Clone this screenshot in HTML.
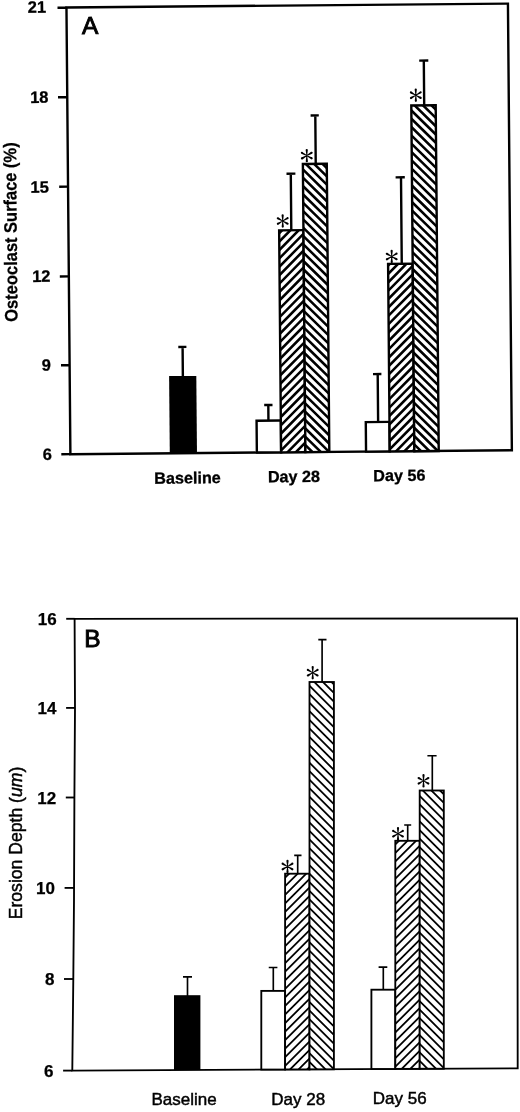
<!DOCTYPE html><html><head><meta charset="utf-8"><style>html,body{margin:0;padding:0;background:#fff;}text{font-family:"Liberation Sans",sans-serif}svg{display:block;filter:grayscale(1) blur(0.35px)}</style></head><body>
<svg width="520" height="1112" viewBox="0 0 520 1112">
<rect width="520" height="1112" fill="#fff"/>
<g transform="translate(70.4,454.2) rotate(-0.505)">
<rect x="0" y="-446.72" width="441.49" height="446.72" fill="none" stroke="#000" stroke-width="2.4"/>
<path d="M-8.97,-446.5 L0,-446.5" stroke="#000" stroke-width="2.4"/>
<text x="-20.37" y="-441.8" text-anchor="end" font-weight="bold" font-size="16.5" stroke="#000" stroke-width="0.3">21</text>
<path d="M-9.25,-357 L0,-357" stroke="#000" stroke-width="2.4"/>
<text x="-18.75" y="-351.6" text-anchor="end" font-weight="bold" font-size="16.5" stroke="#000" stroke-width="0.3">18</text>
<path d="M-8.84,-267.59 L0,-267.59" stroke="#000" stroke-width="2.4"/>
<text x="-19.14" y="-261.69" text-anchor="end" font-weight="bold" font-size="16.5" stroke="#000" stroke-width="0.3">15</text>
<path d="M-9.03,-177.79 L0,-177.79" stroke="#000" stroke-width="2.4"/>
<text x="-18.33" y="-172.59" text-anchor="end" font-weight="bold" font-size="16.5" stroke="#000" stroke-width="0.3">12</text>
<path d="M-8.62,-88.98 L0,-88.98" stroke="#000" stroke-width="2.4"/>
<text x="-18.82" y="-83.58" text-anchor="end" font-weight="bold" font-size="16.5" stroke="#000" stroke-width="0.3">9</text>
<path d="M-9.1,-0.08 L0,-0.08" stroke="#000" stroke-width="2.4"/>
<text x="-18.6" y="5.62" text-anchor="end" font-weight="bold" font-size="16.5" stroke="#000" stroke-width="0.3">6</text>
<path d="M113.14,-76.21 L113.14,-106.31 M108.84,-106.31 L116.94,-106.31" stroke="#000" stroke-width="2.4" fill="none"/>
<rect x="99.39" y="-77.21" width="27.2" height="77.21" fill="#000"/>
<path d="M198.33,-31.85 L198.33,-47.45 M194.23,-47.45 L202.53,-47.45" stroke="#000" stroke-width="2.4" fill="none"/>
<rect x="186.46" y="-31.85" width="24.3" height="31.85" fill="#fff"/>
<rect x="186.46" y="-31.85" width="24.3" height="31.85" fill="none" stroke="#000" stroke-width="2.4"/>
<path d="M222.86,-222.03 L222.86,-278.55 M218.56,-278.55 L227.46,-278.55" stroke="#000" stroke-width="2.4" fill="none"/>
<rect x="210.72" y="-222.03" width="24.3" height="222.03" fill="#fff"/>
<clipPath id="c1"><rect x="210.72" y="-222.03" width="24.3" height="222.03"/></clipPath>
<path clip-path="url(#c1)" d="M215.33,-232.03 L-26.7,10 M223.68,-232.03 L-18.35,10 M232.03,-232.03 L-10,10 M240.38,-232.03 L-1.65,10 M248.73,-232.03 L6.7,10 M257.08,-232.03 L15.05,10 M265.43,-232.03 L23.4,10 M273.78,-232.03 L31.75,10 M282.13,-232.03 L40.1,10 M290.48,-232.03 L48.45,10 M298.83,-232.03 L56.8,10 M307.18,-232.03 L65.15,10 M315.53,-232.03 L73.5,10 M323.88,-232.03 L81.85,10 M332.23,-232.03 L90.2,10 M340.58,-232.03 L98.55,10 M348.93,-232.03 L106.9,10 M357.28,-232.03 L115.25,10 M365.63,-232.03 L123.6,10 M373.98,-232.03 L131.95,10 M382.33,-232.03 L140.3,10 M390.68,-232.03 L148.65,10 M399.03,-232.03 L157,10 M407.38,-232.03 L165.35,10 M415.73,-232.03 L173.7,10 M424.08,-232.03 L182.05,10 M432.43,-232.03 L190.4,10 M440.78,-232.03 L198.75,10 M449.13,-232.03 L207.1,10 M457.48,-232.03 L215.45,10 M465.83,-232.03 L223.8,10 M474.18,-232.03 L232.15,10" stroke="#000" stroke-width="2.55" fill="none"/>
<rect x="210.72" y="-222.03" width="24.3" height="222.03" fill="none" stroke="#000" stroke-width="2.4"/>
<path d="M247.88,-288.11 L247.88,-336.63 M243.18,-336.63 L251.38,-336.63" stroke="#000" stroke-width="2.4" fill="none"/>
<rect x="235.02" y="-288.11" width="23.9" height="288.11" fill="#fff"/>
<clipPath id="c2"><rect x="235.02" y="-288.11" width="23.9" height="288.11"/></clipPath>
<path clip-path="url(#c2)" d="M-64.31,-298.11 L243.8,10 M-55.96,-298.11 L252.15,10 M-47.61,-298.11 L260.5,10 M-39.26,-298.11 L268.85,10 M-30.91,-298.11 L277.2,10 M-22.56,-298.11 L285.55,10 M-14.21,-298.11 L293.9,10 M-5.86,-298.11 L302.25,10 M2.49,-298.11 L310.6,10 M10.84,-298.11 L318.95,10 M19.19,-298.11 L327.3,10 M27.54,-298.11 L335.65,10 M35.89,-298.11 L344,10 M44.24,-298.11 L352.35,10 M52.59,-298.11 L360.7,10 M60.94,-298.11 L369.05,10 M69.29,-298.11 L377.4,10 M77.64,-298.11 L385.75,10 M85.99,-298.11 L394.1,10 M94.34,-298.11 L402.45,10 M102.69,-298.11 L410.8,10 M111.04,-298.11 L419.15,10 M119.39,-298.11 L427.5,10 M127.74,-298.11 L435.85,10 M136.09,-298.11 L444.2,10 M144.44,-298.11 L452.55,10 M152.79,-298.11 L460.9,10 M161.14,-298.11 L469.25,10 M169.49,-298.11 L477.6,10 M177.84,-298.11 L485.95,10 M186.19,-298.11 L494.3,10 M194.54,-298.11 L502.65,10 M202.89,-298.11 L511,10 M211.24,-298.11 L519.35,10 M219.59,-298.11 L527.7,10 M227.94,-298.11 L536.05,10 M236.29,-298.11 L544.4,10 M244.64,-298.11 L552.75,10 M252.99,-298.11 L561.1,10" stroke="#000" stroke-width="2.55" fill="none"/>
<rect x="235.02" y="-288.11" width="23.9" height="288.11" fill="none" stroke="#000" stroke-width="2.4"/>
<path d="M307.99,-29.49 L307.99,-77.39 M303.29,-77.39 L311.69,-77.39" stroke="#000" stroke-width="2.4" fill="none"/>
<rect x="295.66" y="-29.49" width="23.7" height="29.49" fill="#fff"/>
<rect x="295.66" y="-29.49" width="23.7" height="29.49" fill="none" stroke="#000" stroke-width="2.4"/>
<path d="M333.03,-187.47 L333.03,-273.98 M327.63,-273.98 L336.83,-273.98" stroke="#000" stroke-width="2.4" fill="none"/>
<rect x="319.36" y="-187.47" width="24.6" height="187.47" fill="#fff"/>
<clipPath id="c3"><rect x="319.36" y="-187.47" width="24.6" height="187.47"/></clipPath>
<path clip-path="url(#c3)" d="M322.72,-197.47 L115.25,10 M331.07,-197.47 L123.6,10 M339.42,-197.47 L131.95,10 M347.77,-197.47 L140.3,10 M356.12,-197.47 L148.65,10 M364.47,-197.47 L157,10 M372.82,-197.47 L165.35,10 M381.17,-197.47 L173.7,10 M389.52,-197.47 L182.05,10 M397.87,-197.47 L190.4,10 M406.22,-197.47 L198.75,10 M414.57,-197.47 L207.1,10 M422.92,-197.47 L215.45,10 M431.27,-197.47 L223.8,10 M439.62,-197.47 L232.15,10 M447.97,-197.47 L240.5,10 M456.32,-197.47 L248.85,10 M464.67,-197.47 L257.2,10 M473.02,-197.47 L265.55,10 M481.37,-197.47 L273.9,10 M489.72,-197.47 L282.25,10 M498.07,-197.47 L290.6,10 M506.42,-197.47 L298.95,10 M514.77,-197.47 L307.3,10 M523.12,-197.47 L315.65,10 M531.47,-197.47 L324,10 M539.82,-197.47 L332.35,10 M548.17,-197.47 L340.7,10" stroke="#000" stroke-width="2.55" fill="none"/>
<rect x="319.36" y="-187.47" width="24.6" height="187.47" fill="none" stroke="#000" stroke-width="2.4"/>
<path d="M356.86,-345.65 L356.86,-390.47 M352.26,-390.47 L361.36,-390.47" stroke="#000" stroke-width="2.4" fill="none"/>
<rect x="343.96" y="-345.65" width="24.4" height="345.65" fill="#fff"/>
<clipPath id="c4"><rect x="343.96" y="-345.65" width="24.4" height="345.65"/></clipPath>
<path clip-path="url(#c4)" d="M-13.3,-355.65 L352.35,10 M-4.95,-355.65 L360.7,10 M3.4,-355.65 L369.05,10 M11.75,-355.65 L377.4,10 M20.1,-355.65 L385.75,10 M28.45,-355.65 L394.1,10 M36.8,-355.65 L402.45,10 M45.15,-355.65 L410.8,10 M53.5,-355.65 L419.15,10 M61.85,-355.65 L427.5,10 M70.2,-355.65 L435.85,10 M78.55,-355.65 L444.2,10 M86.9,-355.65 L452.55,10 M95.25,-355.65 L460.9,10 M103.6,-355.65 L469.25,10 M111.95,-355.65 L477.6,10 M120.3,-355.65 L485.95,10 M128.65,-355.65 L494.3,10 M137,-355.65 L502.65,10 M145.35,-355.65 L511,10 M153.7,-355.65 L519.35,10 M162.05,-355.65 L527.7,10 M170.4,-355.65 L536.05,10 M178.75,-355.65 L544.4,10 M187.1,-355.65 L552.75,10 M195.45,-355.65 L561.1,10 M203.8,-355.65 L569.45,10 M212.15,-355.65 L577.8,10 M220.5,-355.65 L586.15,10 M228.85,-355.65 L594.5,10 M237.2,-355.65 L602.85,10 M245.55,-355.65 L611.2,10 M253.9,-355.65 L619.55,10 M262.25,-355.65 L627.9,10 M270.6,-355.65 L636.25,10 M278.95,-355.65 L644.6,10 M287.3,-355.65 L652.95,10 M295.65,-355.65 L661.3,10 M304,-355.65 L669.65,10 M312.35,-355.65 L678,10 M320.7,-355.65 L686.35,10 M329.05,-355.65 L694.7,10 M337.4,-355.65 L703.05,10 M345.75,-355.65 L711.4,10 M354.1,-355.65 L719.75,10 M362.45,-355.65 L728.1,10" stroke="#000" stroke-width="2.55" fill="none"/>
<rect x="343.96" y="-345.65" width="24.4" height="345.65" fill="none" stroke="#000" stroke-width="2.4"/>
<path d="M214.7,-231.32 L215.45,-236.92 L213.25,-236.92 L214,-231.32Z M213.25,-236.92 a1.1,1.1 0 1,0 2.2,0 a1.1,1.1 0 1,0 -2.2,0Z M214.52,-231.62 L210.05,-235.07 L208.95,-233.17 L214.17,-231.02Z M208.4,-234.12 a1.1,1.1 0 1,0 2.2,0 a1.1,1.1 0 1,0 -2.2,0Z M214.17,-231.62 L208.95,-229.47 L210.05,-227.57 L214.52,-231.02Z M208.4,-228.52 a1.1,1.1 0 1,0 2.2,0 a1.1,1.1 0 1,0 -2.2,0Z M214,-231.32 L213.25,-225.72 L215.45,-225.72 L214.7,-231.32Z M213.25,-225.72 a1.1,1.1 0 1,0 2.2,0 a1.1,1.1 0 1,0 -2.2,0Z M214.17,-231.02 L218.65,-227.57 L219.75,-229.47 L214.52,-231.62Z M218.1,-228.52 a1.1,1.1 0 1,0 2.2,0 a1.1,1.1 0 1,0 -2.2,0Z M214.52,-231.02 L219.75,-233.17 L218.65,-235.07 L214.17,-231.62Z M218.1,-234.12 a1.1,1.1 0 1,0 2.2,0 a1.1,1.1 0 1,0 -2.2,0Z" fill="#000"/>
<path d="M239.37,-296.5 L240.12,-302.1 L237.92,-302.1 L238.67,-296.5Z M237.92,-302.1 a1.1,1.1 0 1,0 2.2,0 a1.1,1.1 0 1,0 -2.2,0Z M239.2,-296.81 L234.72,-300.26 L233.62,-298.35 L238.85,-296.2Z M233.07,-299.3 a1.1,1.1 0 1,0 2.2,0 a1.1,1.1 0 1,0 -2.2,0Z M238.85,-296.81 L233.62,-294.66 L234.72,-292.75 L239.2,-296.2Z M233.07,-293.7 a1.1,1.1 0 1,0 2.2,0 a1.1,1.1 0 1,0 -2.2,0Z M238.67,-296.5 L237.92,-290.9 L240.12,-290.9 L239.37,-296.5Z M237.92,-290.9 a1.1,1.1 0 1,0 2.2,0 a1.1,1.1 0 1,0 -2.2,0Z M238.85,-296.2 L243.32,-292.75 L244.42,-294.66 L239.2,-296.81Z M242.77,-293.7 a1.1,1.1 0 1,0 2.2,0 a1.1,1.1 0 1,0 -2.2,0Z M239.2,-296.2 L244.42,-298.35 L243.32,-300.26 L238.85,-296.81Z M242.77,-299.3 a1.1,1.1 0 1,0 2.2,0 a1.1,1.1 0 1,0 -2.2,0Z" fill="#000"/>
<path d="M323.38,-194.86 L324.13,-200.46 L321.93,-200.46 L322.68,-194.86Z M321.93,-200.46 a1.1,1.1 0 1,0 2.2,0 a1.1,1.1 0 1,0 -2.2,0Z M323.21,-195.16 L318.73,-198.61 L317.63,-196.71 L322.86,-194.56Z M317.08,-197.66 a1.1,1.1 0 1,0 2.2,0 a1.1,1.1 0 1,0 -2.2,0Z M322.86,-195.16 L317.63,-193.01 L318.73,-191.11 L323.21,-194.56Z M317.08,-192.06 a1.1,1.1 0 1,0 2.2,0 a1.1,1.1 0 1,0 -2.2,0Z M322.68,-194.86 L321.93,-189.26 L324.13,-189.26 L323.38,-194.86Z M321.93,-189.26 a1.1,1.1 0 1,0 2.2,0 a1.1,1.1 0 1,0 -2.2,0Z M322.86,-194.56 L327.33,-191.11 L328.43,-193.01 L323.21,-195.16Z M326.78,-192.06 a1.1,1.1 0 1,0 2.2,0 a1.1,1.1 0 1,0 -2.2,0Z M323.21,-194.56 L328.43,-196.71 L327.33,-198.61 L322.86,-195.16Z M326.78,-197.66 a1.1,1.1 0 1,0 2.2,0 a1.1,1.1 0 1,0 -2.2,0Z" fill="#000"/>
<path d="M348.9,-355.94 L349.65,-361.54 L347.45,-361.54 L348.2,-355.94Z M347.45,-361.54 a1.1,1.1 0 1,0 2.2,0 a1.1,1.1 0 1,0 -2.2,0Z M348.73,-356.24 L344.25,-359.69 L343.15,-357.79 L348.38,-355.64Z M342.6,-358.74 a1.1,1.1 0 1,0 2.2,0 a1.1,1.1 0 1,0 -2.2,0Z M348.38,-356.24 L343.15,-354.09 L344.25,-352.19 L348.73,-355.64Z M342.6,-353.14 a1.1,1.1 0 1,0 2.2,0 a1.1,1.1 0 1,0 -2.2,0Z M348.2,-355.94 L347.45,-350.34 L349.65,-350.34 L348.9,-355.94Z M347.45,-350.34 a1.1,1.1 0 1,0 2.2,0 a1.1,1.1 0 1,0 -2.2,0Z M348.38,-355.64 L352.85,-352.19 L353.95,-354.09 L348.73,-356.24Z M352.3,-353.14 a1.1,1.1 0 1,0 2.2,0 a1.1,1.1 0 1,0 -2.2,0Z M348.73,-355.64 L353.95,-357.79 L352.85,-359.69 L348.38,-356.24Z M352.3,-358.74 a1.1,1.1 0 1,0 2.2,0 a1.1,1.1 0 1,0 -2.2,0Z" fill="#000"/>
<text x="15.4" y="-419.98" font-size="24.5" stroke="#000" stroke-width="0.9">A</text>
<text x="83.54" y="30.34" font-weight="bold" font-size="16.2" stroke="#000" stroke-width="0.3">Baseline</text>
<text x="197.24" y="29.84" font-weight="bold" font-size="16.2" stroke="#000" stroke-width="0.3">Day 28</text>
<text x="302.55" y="29.67" font-weight="bold" font-size="16.2" stroke="#000" stroke-width="0.3">Day 56</text>
<text transform="translate(-51.64,-222.67) rotate(-90) scale(0.915,1)" text-anchor="middle" font-weight="bold" font-size="18" stroke="#000" stroke-width="0.25">Osteoclast Surface (%)</text>
</g>
<path d="M74.6,618.8 L517.1,618.5 L517.7,1068.3 L72.3,1070.6 L73.3,979 L74.0,900 L74.4,797.5 L75.0,708 Z" fill="none" stroke="#000" stroke-width="1.85" stroke-linejoin="miter"/>
<path d="M66.2,618.8 L74.6,618.8" stroke="#000" stroke-width="1.85"/>
<text x="56.6" y="624.8" text-anchor="end" font-weight="bold" font-size="17" stroke="#000" stroke-width="0.25">16</text>
<path d="M66.1,707.9 L75,707.9" stroke="#000" stroke-width="1.85"/>
<text x="56.5" y="713.9" text-anchor="end" font-weight="bold" font-size="17" stroke="#000" stroke-width="0.25">14</text>
<path d="M65.8,797.5 L74.4,797.5" stroke="#000" stroke-width="1.85"/>
<text x="56.2" y="803.5" text-anchor="end" font-weight="bold" font-size="17" stroke="#000" stroke-width="0.25">12</text>
<path d="M64.6,887.9 L74.1,887.9" stroke="#000" stroke-width="1.85"/>
<text x="55" y="893.9" text-anchor="end" font-weight="bold" font-size="17" stroke="#000" stroke-width="0.25">10</text>
<path d="M64,979 L73.3,979" stroke="#000" stroke-width="1.85"/>
<text x="54.4" y="985" text-anchor="end" font-weight="bold" font-size="17" stroke="#000" stroke-width="0.25">8</text>
<path d="M63.1,1070.6 L72.3,1070.6" stroke="#000" stroke-width="1.85"/>
<text x="53.5" y="1076.6" text-anchor="end" font-weight="bold" font-size="17" stroke="#000" stroke-width="0.25">6</text>
<path d="M187.5,996.2 L187.5,976.9 M183,976.9 L192,976.9" stroke="#000" stroke-width="1.65" fill="none"/>
<rect x="174" y="995.2" width="26.4" height="74.81" fill="#000"/>
<path d="M273.3,990.9 L273.3,967.5 M268.75,967.5 L277.4,967.5" stroke="#000" stroke-width="1.65" fill="none"/>
<rect x="261.3" y="990.9" width="23.8" height="78.66" fill="#fff"/>
<rect x="261.3" y="990.9" width="23.8" height="78.66" fill="none" stroke="#000" stroke-width="1.85"/>
<path d="M297.7,873.7 L297.7,855.4 M294.2,855.4 L301.5,855.4" stroke="#000" stroke-width="1.65" fill="none"/>
<rect x="285.1" y="873.7" width="24.4" height="195.74" fill="#fff"/>
<clipPath id="c5"><rect x="285.1" y="873.7" width="24.4" height="195.74"/></clipPath>
<path clip-path="url(#c5)" d="M290.55,863.7 L74.81,1079.44 M299.1,863.7 L83.36,1079.44 M307.65,863.7 L91.91,1079.44 M316.2,863.7 L100.46,1079.44 M324.75,863.7 L109.01,1079.44 M333.3,863.7 L117.56,1079.44 M341.85,863.7 L126.11,1079.44 M350.4,863.7 L134.66,1079.44 M358.95,863.7 L143.21,1079.44 M367.5,863.7 L151.76,1079.44 M376.05,863.7 L160.31,1079.44 M384.6,863.7 L168.86,1079.44 M393.15,863.7 L177.41,1079.44 M401.7,863.7 L185.96,1079.44 M410.25,863.7 L194.51,1079.44 M418.8,863.7 L203.06,1079.44 M427.35,863.7 L211.61,1079.44 M435.9,863.7 L220.16,1079.44 M444.45,863.7 L228.71,1079.44 M453,863.7 L237.26,1079.44 M461.55,863.7 L245.81,1079.44 M470.1,863.7 L254.36,1079.44 M478.65,863.7 L262.91,1079.44 M487.2,863.7 L271.46,1079.44 M495.75,863.7 L280.01,1079.44 M504.3,863.7 L288.56,1079.44 M512.85,863.7 L297.11,1079.44 M521.4,863.7 L305.66,1079.44" stroke="#000" stroke-width="1.8" fill="none"/>
<rect x="285.1" y="873.7" width="24.4" height="195.74" fill="none" stroke="#000" stroke-width="1.85"/>
<path d="M322.1,682 L322.1,639.6 M318.3,639.6 L326.5,639.6" stroke="#000" stroke-width="1.65" fill="none"/>
<rect x="309.5" y="682" width="24.4" height="387.31" fill="#fff"/>
<clipPath id="c6"><rect x="309.5" y="682" width="24.4" height="387.31"/></clipPath>
<path clip-path="url(#c6)" d="M-88.95,672 L318.36,1079.31 M-80.4,672 L326.91,1079.31 M-71.85,672 L335.46,1079.31 M-63.3,672 L344.01,1079.31 M-54.75,672 L352.56,1079.31 M-46.2,672 L361.11,1079.31 M-37.65,672 L369.66,1079.31 M-29.1,672 L378.21,1079.31 M-20.55,672 L386.76,1079.31 M-12,672 L395.31,1079.31 M-3.45,672 L403.86,1079.31 M5.1,672 L412.41,1079.31 M13.65,672 L420.96,1079.31 M22.2,672 L429.51,1079.31 M30.75,672 L438.06,1079.31 M39.3,672 L446.61,1079.31 M47.85,672 L455.16,1079.31 M56.4,672 L463.71,1079.31 M64.95,672 L472.26,1079.31 M73.5,672 L480.81,1079.31 M82.05,672 L489.36,1079.31 M90.6,672 L497.91,1079.31 M99.15,672 L506.46,1079.31 M107.7,672 L515.01,1079.31 M116.25,672 L523.56,1079.31 M124.8,672 L532.11,1079.31 M133.35,672 L540.66,1079.31 M141.9,672 L549.21,1079.31 M150.45,672 L557.76,1079.31 M159,672 L566.31,1079.31 M167.55,672 L574.86,1079.31 M176.1,672 L583.41,1079.31 M184.65,672 L591.96,1079.31 M193.2,672 L600.51,1079.31 M201.75,672 L609.06,1079.31 M210.3,672 L617.61,1079.31 M218.85,672 L626.16,1079.31 M227.4,672 L634.71,1079.31 M235.95,672 L643.26,1079.31 M244.5,672 L651.81,1079.31 M253.05,672 L660.36,1079.31 M261.6,672 L668.91,1079.31 M270.15,672 L677.46,1079.31 M278.7,672 L686.01,1079.31 M287.25,672 L694.56,1079.31 M295.8,672 L703.11,1079.31 M304.35,672 L711.66,1079.31 M312.9,672 L720.21,1079.31 M321.45,672 L728.76,1079.31 M330,672 L737.31,1079.31" stroke="#000" stroke-width="1.8" fill="none"/>
<rect x="309.5" y="682" width="24.4" height="387.31" fill="none" stroke="#000" stroke-width="1.85"/>
<path d="M383.3,989.7 L383.3,967.1 M378.6,967.1 L387.3,967.1" stroke="#000" stroke-width="1.65" fill="none"/>
<rect x="371.4" y="989.7" width="23.9" height="79.29" fill="#fff"/>
<rect x="371.4" y="989.7" width="23.9" height="79.29" fill="none" stroke="#000" stroke-width="1.85"/>
<path d="M407.7,840.8 L407.7,825 M404.2,825 L411.2,825" stroke="#000" stroke-width="1.65" fill="none"/>
<rect x="395.3" y="840.8" width="24.4" height="228.07" fill="#fff"/>
<clipPath id="c7"><rect x="395.3" y="840.8" width="24.4" height="228.07"/></clipPath>
<path clip-path="url(#c7)" d="M400.4,830.8 L152.33,1078.87 M408.95,830.8 L160.88,1078.87 M417.5,830.8 L169.43,1078.87 M426.05,830.8 L177.98,1078.87 M434.6,830.8 L186.53,1078.87 M443.15,830.8 L195.08,1078.87 M451.7,830.8 L203.63,1078.87 M460.25,830.8 L212.18,1078.87 M468.8,830.8 L220.73,1078.87 M477.35,830.8 L229.28,1078.87 M485.9,830.8 L237.83,1078.87 M494.45,830.8 L246.38,1078.87 M503,830.8 L254.93,1078.87 M511.55,830.8 L263.48,1078.87 M520.1,830.8 L272.03,1078.87 M528.65,830.8 L280.58,1078.87 M537.2,830.8 L289.13,1078.87 M545.75,830.8 L297.68,1078.87 M554.3,830.8 L306.23,1078.87 M562.85,830.8 L314.78,1078.87 M571.4,830.8 L323.33,1078.87 M579.95,830.8 L331.88,1078.87 M588.5,830.8 L340.43,1078.87 M597.05,830.8 L348.98,1078.87 M605.6,830.8 L357.53,1078.87 M614.15,830.8 L366.08,1078.87 M622.7,830.8 L374.63,1078.87 M631.25,830.8 L383.18,1078.87 M639.8,830.8 L391.73,1078.87 M648.35,830.8 L400.28,1078.87 M656.9,830.8 L408.83,1078.87 M665.45,830.8 L417.38,1078.87" stroke="#000" stroke-width="1.8" fill="none"/>
<rect x="395.3" y="840.8" width="24.4" height="228.07" fill="none" stroke="#000" stroke-width="1.85"/>
<path d="M432.3,790.5 L432.3,755.7 M427.4,755.7 L436.6,755.7" stroke="#000" stroke-width="1.65" fill="none"/>
<rect x="419.7" y="790.5" width="24.1" height="278.24" fill="#fff"/>
<clipPath id="c8"><rect x="419.7" y="790.5" width="24.1" height="278.24"/></clipPath>
<path clip-path="url(#c8)" d="M130.7,780.5 L428.94,1078.74 M139.25,780.5 L437.49,1078.74 M147.8,780.5 L446.04,1078.74 M156.35,780.5 L454.59,1078.74 M164.9,780.5 L463.14,1078.74 M173.45,780.5 L471.69,1078.74 M182,780.5 L480.24,1078.74 M190.55,780.5 L488.79,1078.74 M199.1,780.5 L497.34,1078.74 M207.65,780.5 L505.89,1078.74 M216.2,780.5 L514.44,1078.74 M224.75,780.5 L522.99,1078.74 M233.3,780.5 L531.54,1078.74 M241.85,780.5 L540.09,1078.74 M250.4,780.5 L548.64,1078.74 M258.95,780.5 L557.19,1078.74 M267.5,780.5 L565.74,1078.74 M276.05,780.5 L574.29,1078.74 M284.6,780.5 L582.84,1078.74 M293.15,780.5 L591.39,1078.74 M301.7,780.5 L599.94,1078.74 M310.25,780.5 L608.49,1078.74 M318.8,780.5 L617.04,1078.74 M327.35,780.5 L625.59,1078.74 M335.9,780.5 L634.14,1078.74 M344.45,780.5 L642.69,1078.74 M353,780.5 L651.24,1078.74 M361.55,780.5 L659.79,1078.74 M370.1,780.5 L668.34,1078.74 M378.65,780.5 L676.89,1078.74 M387.2,780.5 L685.44,1078.74 M395.75,780.5 L693.99,1078.74 M404.3,780.5 L702.54,1078.74 M412.85,780.5 L711.09,1078.74 M421.4,780.5 L719.64,1078.74 M429.95,780.5 L728.19,1078.74 M438.5,780.5 L736.74,1078.74" stroke="#000" stroke-width="1.8" fill="none"/>
<rect x="419.7" y="790.5" width="24.1" height="278.24" fill="none" stroke="#000" stroke-width="1.85"/>
<path d="M287.85,866.5 L288.6,860.9 L286.4,860.9 L287.15,866.5Z M286.4,860.9 a1.1,1.1 0 1,0 2.2,0 a1.1,1.1 0 1,0 -2.2,0Z M287.68,866.2 L283.2,862.75 L282.1,864.65 L287.32,866.8Z M281.55,863.7 a1.1,1.1 0 1,0 2.2,0 a1.1,1.1 0 1,0 -2.2,0Z M287.32,866.2 L282.1,868.35 L283.2,870.25 L287.68,866.8Z M281.55,869.3 a1.1,1.1 0 1,0 2.2,0 a1.1,1.1 0 1,0 -2.2,0Z M287.15,866.5 L286.4,872.1 L288.6,872.1 L287.85,866.5Z M286.4,872.1 a1.1,1.1 0 1,0 2.2,0 a1.1,1.1 0 1,0 -2.2,0Z M287.32,866.8 L291.8,870.25 L292.9,868.35 L287.68,866.2Z M291.25,869.3 a1.1,1.1 0 1,0 2.2,0 a1.1,1.1 0 1,0 -2.2,0Z M287.68,866.8 L292.9,864.65 L291.8,862.75 L287.32,866.2Z M291.25,863.7 a1.1,1.1 0 1,0 2.2,0 a1.1,1.1 0 1,0 -2.2,0Z" fill="#000"/>
<path d="M313.05,672.7 L313.8,667.1 L311.6,667.1 L312.35,672.7Z M311.6,667.1 a1.1,1.1 0 1,0 2.2,0 a1.1,1.1 0 1,0 -2.2,0Z M312.88,672.4 L308.4,668.95 L307.3,670.85 L312.52,673Z M306.75,669.9 a1.1,1.1 0 1,0 2.2,0 a1.1,1.1 0 1,0 -2.2,0Z M312.52,672.4 L307.3,674.55 L308.4,676.45 L312.88,673Z M306.75,675.5 a1.1,1.1 0 1,0 2.2,0 a1.1,1.1 0 1,0 -2.2,0Z M312.35,672.7 L311.6,678.3 L313.8,678.3 L313.05,672.7Z M311.6,678.3 a1.1,1.1 0 1,0 2.2,0 a1.1,1.1 0 1,0 -2.2,0Z M312.52,673 L317,676.45 L318.1,674.55 L312.88,672.4Z M316.45,675.5 a1.1,1.1 0 1,0 2.2,0 a1.1,1.1 0 1,0 -2.2,0Z M312.88,673 L318.1,670.85 L317,668.95 L312.52,672.4Z M316.45,669.9 a1.1,1.1 0 1,0 2.2,0 a1.1,1.1 0 1,0 -2.2,0Z" fill="#000"/>
<path d="M398.35,833.7 L399.1,828.1 L396.9,828.1 L397.65,833.7Z M396.9,828.1 a1.1,1.1 0 1,0 2.2,0 a1.1,1.1 0 1,0 -2.2,0Z M398.18,833.4 L393.7,829.95 L392.6,831.85 L397.82,834Z M392.05,830.9 a1.1,1.1 0 1,0 2.2,0 a1.1,1.1 0 1,0 -2.2,0Z M397.82,833.4 L392.6,835.55 L393.7,837.45 L398.18,834Z M392.05,836.5 a1.1,1.1 0 1,0 2.2,0 a1.1,1.1 0 1,0 -2.2,0Z M397.65,833.7 L396.9,839.3 L399.1,839.3 L398.35,833.7Z M396.9,839.3 a1.1,1.1 0 1,0 2.2,0 a1.1,1.1 0 1,0 -2.2,0Z M397.82,834 L402.3,837.45 L403.4,835.55 L398.18,833.4Z M401.75,836.5 a1.1,1.1 0 1,0 2.2,0 a1.1,1.1 0 1,0 -2.2,0Z M398.18,834 L403.4,831.85 L402.3,829.95 L397.82,833.4Z M401.75,830.9 a1.1,1.1 0 1,0 2.2,0 a1.1,1.1 0 1,0 -2.2,0Z" fill="#000"/>
<path d="M423.85,780.8 L424.6,775.2 L422.4,775.2 L423.15,780.8Z M422.4,775.2 a1.1,1.1 0 1,0 2.2,0 a1.1,1.1 0 1,0 -2.2,0Z M423.68,780.5 L419.2,777.05 L418.1,778.95 L423.32,781.1Z M417.55,778 a1.1,1.1 0 1,0 2.2,0 a1.1,1.1 0 1,0 -2.2,0Z M423.32,780.5 L418.1,782.65 L419.2,784.55 L423.68,781.1Z M417.55,783.6 a1.1,1.1 0 1,0 2.2,0 a1.1,1.1 0 1,0 -2.2,0Z M423.15,780.8 L422.4,786.4 L424.6,786.4 L423.85,780.8Z M422.4,786.4 a1.1,1.1 0 1,0 2.2,0 a1.1,1.1 0 1,0 -2.2,0Z M423.32,781.1 L427.8,784.55 L428.9,782.65 L423.68,780.5Z M427.25,783.6 a1.1,1.1 0 1,0 2.2,0 a1.1,1.1 0 1,0 -2.2,0Z M423.68,781.1 L428.9,778.95 L427.8,777.05 L423.32,780.5Z M427.25,778 a1.1,1.1 0 1,0 2.2,0 a1.1,1.1 0 1,0 -2.2,0Z" fill="#000"/>
<text x="84.3" y="647.3" font-size="24.5" stroke="#000" stroke-width="0.95">B</text>
<text x="151.5" y="1104.8" font-size="17" stroke="#000" stroke-width="0.45">Baseline</text>
<text x="271.3" y="1104.6" font-size="17" stroke="#000" stroke-width="0.45">Day 28</text>
<text x="372.8" y="1103.8" font-size="17" stroke="#000" stroke-width="0.45">Day 56</text>
<text transform="translate(22,843) rotate(-90)" text-anchor="middle" font-size="17.6" stroke="#000" stroke-width="0.45">Erosion Depth (<tspan font-style="italic">um</tspan>)</text>
</svg></body></html>
